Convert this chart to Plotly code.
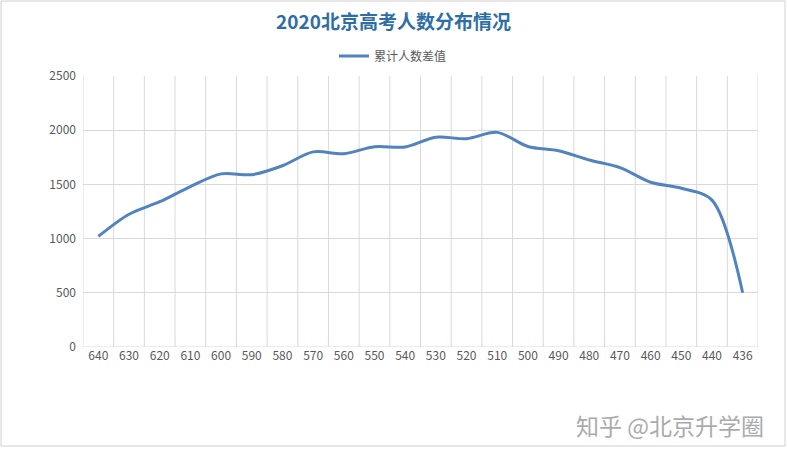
import plotly.graph_objects as go

categories = ["640", "630", "620", "610", "600", "590", "580", "570", "560", "550", "540",
              "530", "520", "510", "500", "490", "480", "470", "460", "450", "440", "436"]
values = [1020, 1225, 1340, 1480, 1597, 1590, 1672, 1800, 1783, 1848, 1845,
          1935, 1922, 1980, 1850, 1810, 1725, 1655, 1520, 1465, 1355, 500]
series_name = "累计人数差值"
title_text = "2020北京高考人数分布情况"
watermark = "知乎 @北京升学圈"

W, H = 787, 456
L, R, T, B = 83, 29, 76, 109
pw, ph = W - L - R, H - T - B

fig = go.Figure()
fig.add_trace(go.Scatter(
    x=categories, y=values, mode="lines", name=series_name,
    line=dict(color="#5283be", width=3, shape="spline", smoothing=0.9),
))

font = "Noto Sans CJK SC, Noto Sans, sans-serif"

def px2x(p):
    return (p - L) / pw

def px2y(p):
    return (H - B - p) / ph

fig.update_layout(
    width=W, height=H,
    margin=dict(l=L, r=R, t=T, b=B),
    paper_bgcolor="white", plot_bgcolor="white",
    font=dict(family=font, size=12, color="#595959"),
    title=dict(text="<b>" + title_text + "</b>", x=0.5, xanchor="center",
               y=1 - 22 / H, yanchor="middle",
               font=dict(family=font, size=19, color="#2e6ea6")),
    showlegend=True,
    legend=dict(orientation="h", x=px2x(393), xanchor="center", y=px2y(56), yanchor="middle",
                font=dict(size=12, color="#595959"), itemwidth=30,
                bgcolor="rgba(0,0,0,0)"),
    xaxis=dict(type="category", showgrid=False, showline=False, ticks="",
               tickfont=dict(size=12, color="#595959"), fixedrange=True),
    yaxis=dict(range=[0, 2500], dtick=500, showgrid=True, gridcolor="#d9d9d9",
               gridwidth=1, zeroline=False, showline=False,
               tickfont=dict(size=12, color="#595959"), ticklabelstandoff=6),
)

n = len(categories)
shapes = []
for i in range(n + 1):
    shapes.append(dict(type="line", xref="x", yref="paper", x0=i - 0.5, x1=i - 0.5,
                       y0=0, y1=1, line=dict(color="#d9d9d9", width=1), layer="below"))
shapes.append(dict(type="line", xref="paper", yref="y", x0=0, x1=1, y0=0, y1=0,
                   line=dict(color="#d9d9d9", width=1), layer="below"))
shapes.append(dict(type="rect", xref="paper", yref="paper",
                   x0=px2x(1), x1=px2x(785), y0=px2y(446), y1=px2y(1),
                   line=dict(color="#d0d0d0", width=1), layer="below"))
fig.update_layout(shapes=shapes)
fig.update_xaxes(range=[-0.5, n - 0.5])

fig.add_annotation(text=watermark, xref="paper", yref="paper",
                   x=px2x(766), y=px2y(425), xanchor="right", yanchor="middle",
                   showarrow=False,
                   font=dict(family=font, size=23, color="#ababab"))

fig.write_html("out.html")
